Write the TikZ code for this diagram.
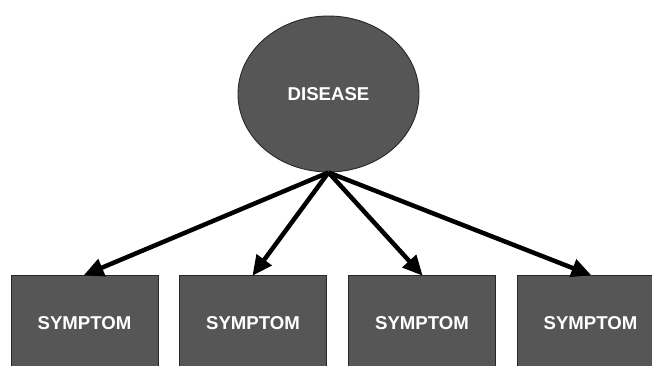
\documentclass[tikz,border=0pt]{standalone}
\usepackage{fontspec}
\setmainfont{Liberation Sans}
\usetikzlibrary{shapes.geometric,arrows.meta}
\definecolor{nodefill}{RGB}{86,86,86}
\definecolor{nodeedge}{RGB}{40,40,40}
\tikzset{
  labeltext/.style={text=white, font=\bfseries\fontsize{18.6}{20}\selectfont},
  disease/.style={ellipse, draw=nodeedge, line width=0.9pt, fill=nodefill,
    minimum width=181pt, minimum height=156pt, inner sep=0pt, labeltext},
  symptombox/.style={rectangle, draw=nodeedge, line width=0.9pt, fill=nodefill,
    minimum width=147pt, minimum height=96pt, inner sep=0pt, anchor=north,
    labeltext},
  link/.style={line width=4.5pt, draw=black,
    -{Triangle[length=20pt,width=18pt]}, shorten >=-1pt}
}
\begin{document}
\begin{tikzpicture}[x=1pt,y=-1pt]
  \clip (0,0) rectangle (652,365);
  \fill[white] (0,0) rectangle (652,365);
  \node[disease] (d) at (328.5,94) {DISEASE};
  \node[symptombox] (s1) at (84.5,275) {SYMPTOM};
  \node[symptombox] (s2) at (253,275) {SYMPTOM};
  \node[symptombox] (s3) at (422,275) {SYMPTOM};
  \node[symptombox] (s4) at (590.5,275) {SYMPTOM};
  \foreach \s in {s1,s2,s3,s4}
    \draw[link] (d.south) -- (\s.north);
\end{tikzpicture}
\end{document}
